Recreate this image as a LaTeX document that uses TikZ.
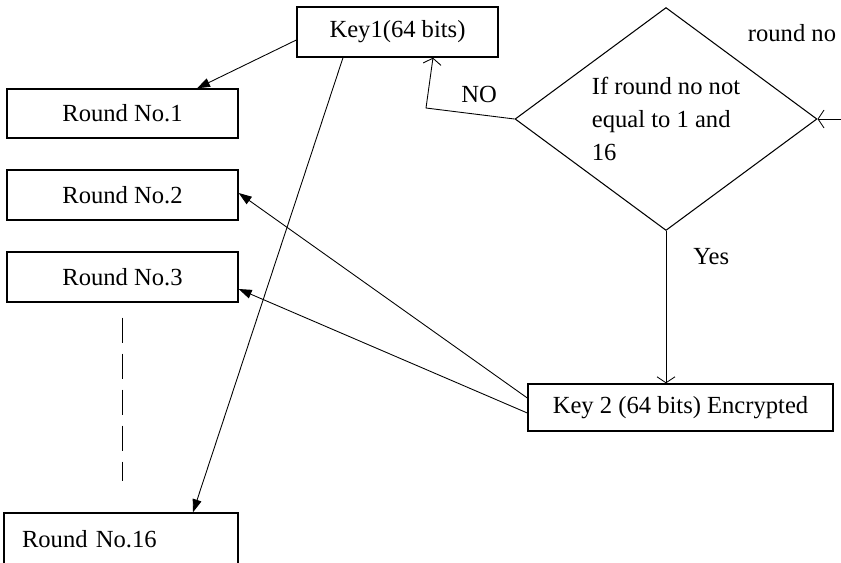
\documentclass[tikz,border=0pt]{standalone}
\usepackage{fontspec}
\setmainfont{Liberation Serif}
\usetikzlibrary{arrows.meta, shapes.geometric, positioning, calc}

\begin{document}
\begin{tikzpicture}[x=0.02cm, y=-0.02cm, font=\fontsize{14}{19}\selectfont,
    box/.style={draw, line width=0.8pt, minimum width=4.62cm, minimum height=0.98cm, inner sep=0pt},
    fillarr/.style={-{Triangle[length=2.6mm, width=1.8mm]}, line width=0.5pt},
    openarr/.style={-{Straight Barb[length=1.2mm, width=3.6mm]}, line width=0.5pt}]
  \useasboundingbox (0,0) rectangle (841,562);
  % keys
  \node[box, minimum width=4.02cm, minimum height=1.0cm] (key1) at (397.5,32) {Key1(64 bits)};
  \node[box, minimum width=6.1cm, minimum height=0.94cm] (key2) at (680.5,407.5) {Key 2 (64 bits) Encrypted};
  % rounds
  \node[box] (round1) at (122.5,113.5) {Round No.1};
  \node[box, minimum height=1.0cm] (round2) at (122.5,195) {Round No.2};
  \node[box, minimum height=1.0cm] (round3) at (122.5,277) {Round No.3};
  \node[box, minimum height=1.04cm, text width=3.96cm, inner xsep=0.36cm, align=left]
        (round16) at (121,539) {Round No.16};
  % decision
  \node[draw, diamond, aspect=1.354, minimum width=6.04cm, minimum height=4.46cm, inner sep=0pt,
        line width=0.6pt, align=left] (dec) at (666,119) {If round no not\\equal to 1 and\\16};
  \node (rno) at (792,33) {round no};
  \coordinate (rin) at (845,119);
  \coordinate (nobend) at (426,108);
  % connectors
  \draw[fillarr] ($(key1.west)+(0,8)$) -- ($(round1.north)+(74.5,0)$);
  \draw[fillarr] ($(key1.south)+(-54.5,0)$) -- ($(round16.north)+(72,0)$);
  \draw[fillarr] ($(key2.west)+(0,-9.5)$) -- ($(round2.east)+(0,-2)$);
  \draw[fillarr] ($(key2.west)+(0,5.5)$) -- ($(round3.east)+(0,12)$);
  \draw[openarr] (rin) -- (dec.east);
  \draw[openarr] (dec.west) -- node[pos=0.4, above=3pt]{NO} (nobend) -- ($(key1.south)+(35.5,0)$);
  \draw[openarr] (dec.south) -- node[pos=0.17, right=12pt]{Yes} (dec.south |- key2.north);
  \draw[line width=0.6pt, dash pattern=on 0.5cm off 0.22cm, shorten <=0.3cm, shorten >=0.62cm]
       (round3.south) -- (round3.south |- round16.north);
\end{tikzpicture}
\end{document}
